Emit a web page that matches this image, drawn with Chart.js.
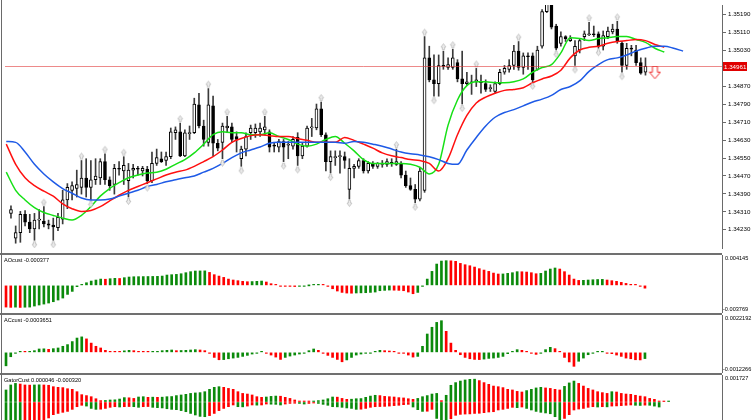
<!DOCTYPE html>
<html>
<head>
<meta charset="utf-8">
<script src="https://cdn.jsdelivr.net/npm/chart.js@4.4.1/dist/chart.umd.min.js"></script>
<style>
  html, body { margin: 0; padding: 0; background: #fff; }
  #wrap { position: relative; width: 752px; height: 420px; overflow: hidden; }
  .pane { position: absolute; left: 0; width: 752px; }
  .pane canvas { display: block; }
  .sep { position: absolute; left: 0; width: 722px; height: 2px; background: #707070; }
  #frame { position: absolute; left: 1px; top: 0; width: 1px; height: 420px; background: #6a6a6a; }
</style>
</head>
<body>
<div id="wrap">
  <div class="pane" style="top:0;height:253px"><canvas id="main" width="752" height="253"></canvas></div>
  <div class="sep" style="top:253px"></div>
  <div class="pane" style="top:255px;height:58px"><canvas id="ao" width="752" height="58"></canvas></div>
  <div class="sep" style="top:313px"></div>
  <div class="pane" style="top:315px;height:58px"><canvas id="ac" width="752" height="58"></canvas></div>
  <div class="sep" style="top:373px"></div>
  <div class="pane" style="top:375px;height:45px"><canvas id="gator" width="752" height="45"></canvas></div>
  <div id="frame"></div>
</div>
<script>
// ─── Data ─────────────────────────────────────────────────────────────────────

const opens = [
  1.34303, 1.34192, 1.34217, 1.34299, 1.34264, 1.34234, 1.34273, 1.34269, 1.34256, 1.34251,
  1.34239, 1.34277, 1.34363, 1.34406, 1.34414, 1.34419, 1.34461, 1.34419, 1.34453, 1.34461,
  1.34534, 1.34453, 1.34432, 1.34504, 1.34492, 1.34449, 1.34496, 1.34504, 1.34492, 1.34500,
  1.34449, 1.34526, 1.34547, 1.34539, 1.34556, 1.34663, 1.34667, 1.34560, 1.34659, 1.34663,
  1.34787, 1.34693, 1.34620, 1.34783, 1.34616, 1.34620, 1.34684, 1.34689, 1.34646, 1.34547,
  1.34590, 1.34663, 1.34663, 1.34667, 1.34676, 1.34667, 1.34607, 1.34599, 1.34624, 1.34607,
  1.34603, 1.34642, 1.34560, 1.34603, 1.34684, 1.34684, 1.34770, 1.34654, 1.34534, 1.34552,
  1.34556, 1.34556, 1.34410, 1.34504, 1.34513, 1.34539, 1.34492, 1.34526, 1.34513, 1.34522,
  1.34522, 1.34530, 1.34522, 1.34526, 1.34474, 1.34427, 1.34410, 1.34367, 1.34406, 1.34997,
  1.34899, 1.34882, 1.34963, 1.34954, 1.34954, 1.34976, 1.34903, 1.34882, 1.34886, 1.34890,
  1.34890, 1.34882, 1.34860, 1.34847, 1.34882, 1.34933, 1.34946, 1.34963, 1.35027, 1.34954,
  1.35006, 1.35006, 1.34946, 1.35049, 1.35203, 1.35246, 1.35139, 1.35062, 1.35092, 1.35074,
  1.35006, 1.35032, 1.35092, 1.35100, 1.35104, 1.35104, 1.35049, 1.35092, 1.35113, 1.35126,
  1.35062, 1.34963, 1.35040, 1.35032, 1.34976, 1.34933,
];
const highs = [
  1.34337, 1.34247, 1.34312, 1.34316, 1.34299, 1.34303, 1.34320, 1.34333, 1.34273, 1.34282,
  1.34303, 1.34406, 1.34436, 1.34444, 1.34496, 1.34539, 1.34547, 1.34539, 1.34547, 1.34547,
  1.34569, 1.34466, 1.34522, 1.34534, 1.34556, 1.34526, 1.34522, 1.34513, 1.34513, 1.34513,
  1.34577, 1.34590, 1.34577, 1.34577, 1.34684, 1.34689, 1.34706, 1.34676, 1.34693, 1.34817,
  1.34839, 1.34719, 1.34860, 1.34826, 1.34633, 1.34706, 1.34736, 1.34706, 1.34667, 1.34603,
  1.34663, 1.34697, 1.34702, 1.34706, 1.34736, 1.34676, 1.34620, 1.34633, 1.34633, 1.34624,
  1.34646, 1.34663, 1.34620, 1.34693, 1.34727, 1.34791, 1.34800, 1.34663, 1.34582, 1.34582,
  1.34582, 1.34577, 1.34547, 1.34522, 1.34547, 1.34547, 1.34534, 1.34534, 1.34530, 1.34539,
  1.34547, 1.34547, 1.34590, 1.34534, 1.34492, 1.34461, 1.34432, 1.34504, 1.35092, 1.35049,
  1.35010, 1.35010, 1.35027, 1.34997, 1.35036, 1.34989, 1.35027, 1.34933, 1.34920, 1.34950,
  1.34920, 1.34899, 1.34877, 1.34890, 1.34946, 1.34963, 1.34989, 1.35053, 1.35070, 1.35019,
  1.35019, 1.35019, 1.35049, 1.35212, 1.35276, 1.35267, 1.35147, 1.35113, 1.35096, 1.35096,
  1.35074, 1.35083, 1.35117, 1.35156, 1.35139, 1.35113, 1.35117, 1.35134, 1.35147, 1.35160,
  1.35070, 1.35062, 1.35053, 1.35053, 1.34997, 1.34997,
];
const lows = [
  1.34282, 1.34170, 1.34174, 1.34247, 1.34217, 1.34183, 1.34234, 1.34243, 1.34234, 1.34183,
  1.34226, 1.34256, 1.34324, 1.34363, 1.34376, 1.34389, 1.34376, 1.34363, 1.34432, 1.34432,
  1.34432, 1.34406, 1.34389, 1.34474, 1.34432, 1.34376, 1.34461, 1.34474, 1.34470, 1.34436,
  1.34440, 1.34517, 1.34530, 1.34517, 1.34547, 1.34633, 1.34556, 1.34556, 1.34633, 1.34659,
  1.34684, 1.34603, 1.34603, 1.34560, 1.34582, 1.34547, 1.34663, 1.34620, 1.34577, 1.34513,
  1.34560, 1.34633, 1.34642, 1.34646, 1.34654, 1.34577, 1.34577, 1.34577, 1.34534, 1.34547,
  1.34590, 1.34517, 1.34547, 1.34599, 1.34646, 1.34676, 1.34646, 1.34492, 1.34483, 1.34517,
  1.34483, 1.34504, 1.34367, 1.34461, 1.34504, 1.34483, 1.34483, 1.34504, 1.34504, 1.34509,
  1.34513, 1.34513, 1.34517, 1.34461, 1.34419, 1.34406, 1.34350, 1.34359, 1.34397, 1.34890,
  1.34826, 1.34826, 1.34946, 1.34946, 1.34946, 1.34890, 1.34791, 1.34873, 1.34834, 1.34869,
  1.34839, 1.34847, 1.34847, 1.34839, 1.34877, 1.34924, 1.34933, 1.34946, 1.34942, 1.34924,
  1.34946, 1.34890, 1.34942, 1.35040, 1.35199, 1.35126, 1.35032, 1.35049, 1.35070, 1.35070,
  1.34963, 1.35019, 1.35074, 1.35096, 1.35092, 1.35040, 1.35032, 1.35083, 1.35104, 1.35062,
  1.34933, 1.34946, 1.35006, 1.34963, 1.34924, 1.34920,
];
const closes = [
  1.34320, 1.34217, 1.34299, 1.34264, 1.34234, 1.34273, 1.34277, 1.34256, 1.34251, 1.34243,
  1.34286, 1.34363, 1.34419, 1.34427, 1.34432, 1.34461, 1.34419, 1.34453, 1.34470, 1.34534,
  1.34453, 1.34427, 1.34504, 1.34500, 1.34517, 1.34496, 1.34504, 1.34500, 1.34504, 1.34449,
  1.34526, 1.34552, 1.34534, 1.34556, 1.34667, 1.34676, 1.34560, 1.34663, 1.34663, 1.34791,
  1.34693, 1.34633, 1.34787, 1.34616, 1.34594, 1.34693, 1.34693, 1.34633, 1.34633, 1.34590,
  1.34646, 1.34684, 1.34684, 1.34684, 1.34689, 1.34599, 1.34603, 1.34624, 1.34599, 1.34612,
  1.34633, 1.34560, 1.34603, 1.34684, 1.34689, 1.34770, 1.34654, 1.34534, 1.34556, 1.34556,
  1.34560, 1.34539, 1.34504, 1.34513, 1.34539, 1.34492, 1.34526, 1.34513, 1.34526, 1.34526,
  1.34534, 1.34526, 1.34534, 1.34474, 1.34427, 1.34410, 1.34367, 1.34492, 1.34997, 1.34899,
  1.34882, 1.34963, 1.34959, 1.34967, 1.34997, 1.34903, 1.34882, 1.34890, 1.34890, 1.34899,
  1.34886, 1.34856, 1.34864, 1.34882, 1.34933, 1.34950, 1.34963, 1.35027, 1.34954, 1.35006,
  1.35002, 1.34899, 1.35032, 1.35203, 1.35254, 1.35134, 1.35040, 1.35092, 1.35083, 1.35083,
  1.35049, 1.35074, 1.35104, 1.35104, 1.35100, 1.35049, 1.35096, 1.35117, 1.35126, 1.35070,
  1.34963, 1.35040, 1.35036, 1.34976, 1.34929, 1.34959,
];

// Alligator lines, sampled every second bar (jaw shifted 8, teeth 5, lips 3)
const lineIdx = [
  -1, 1, 3, 5, 7, 9, 11, 13, 15, 17, 19, 21, 23, 25, 27, 29, 31, 33, 35, 37,
  39, 41, 43, 45, 47, 49, 51, 53, 55, 57, 59, 61, 63, 65, 67, 69, 71, 73, 75, 77,
  79, 81, 83, 85, 87, 89, 91, 93, 95, 97, 99, 101, 103, 105, 107, 109, 111, 113, 115, 117,
  119, 121, 123, 125, 127, 129, 131, 133, 135, 137, 139, 141, 143,
];
const jaw = [
  1.34624, 1.34620, 1.34577, 1.34522, 1.34479, 1.34444, 1.34414, 1.34393, 1.34372, 1.34363,
  1.34363, 1.34367, 1.34380, 1.34393, 1.34406, 1.34423, 1.34432, 1.34444, 1.34453, 1.34462,
  1.34470, 1.34487, 1.34504, 1.34526, 1.34552, 1.34573, 1.34586, 1.34599, 1.34616, 1.34620,
  1.34620, 1.34620, 1.34620, 1.34620, 1.34620, 1.34620, 1.34616, 1.34624, 1.34620, 1.34612,
  1.34603, 1.34590, 1.34577, 1.34569, 1.34564, 1.34556, 1.34543, 1.34526, 1.34522, 1.34586,
  1.34642, 1.34693, 1.34732, 1.34753, 1.34766, 1.34783, 1.34800, 1.34813, 1.34830, 1.34856,
  1.34869, 1.34894, 1.34937, 1.34967, 1.34989, 1.34997, 1.35010, 1.35027, 1.35040, 1.35049,
  1.35049, 1.35040, 1.35027,
];
const teeth = [
  1.34612, 1.34522, 1.34462, 1.34427, 1.34402, 1.34380, 1.34346, 1.34324, 1.34312, 1.34316,
  1.34333, 1.34359, 1.34384, 1.34406, 1.34423, 1.34440, 1.34457, 1.34474, 1.34487, 1.34496,
  1.34513, 1.34534, 1.34556, 1.34586, 1.34620, 1.34637, 1.34650, 1.34654, 1.34650, 1.34646,
  1.34646, 1.34637, 1.34629, 1.34620, 1.34620, 1.34620, 1.34642, 1.34629, 1.34612, 1.34594,
  1.34573, 1.34560, 1.34552, 1.34543, 1.34539, 1.34526, 1.34492, 1.34547, 1.34654, 1.34740,
  1.34796, 1.34822, 1.34839, 1.34852, 1.34856, 1.34864, 1.34886, 1.34903, 1.34916, 1.34942,
  1.34997, 1.35032, 1.35044, 1.35049, 1.35062, 1.35070, 1.35074, 1.35079, 1.35074, 1.35057,
  1.35044,
];
const lips = [
  1.34487, 1.34406, 1.34363, 1.34329, 1.34307, 1.34294, 1.34282, 1.34273, 1.34294, 1.34333,
  1.34380, 1.34414, 1.34440, 1.34462, 1.34474, 1.34483, 1.34487, 1.34500, 1.34522, 1.34543,
  1.34573, 1.34612, 1.34654, 1.34667, 1.34663, 1.34663, 1.34654, 1.34654, 1.34663, 1.34646,
  1.34633, 1.34612, 1.34603, 1.34612, 1.34633, 1.34646, 1.34616, 1.34582, 1.34543, 1.34526,
  1.34526, 1.34526, 1.34526, 1.34522, 1.34509, 1.34479, 1.34522, 1.34697, 1.34809, 1.34873,
  1.34890, 1.34890, 1.34886, 1.34886, 1.34890, 1.34903, 1.34933, 1.34954, 1.34967, 1.35019,
  1.35087, 1.35083, 1.35074, 1.35083, 1.35087, 1.35092, 1.35092, 1.35079, 1.35066, 1.35040,
  1.35023,
];

const fractalUp = [7, 15, 20, 24, 36, 42, 46, 54, 66, 82, 88, 92, 94, 99, 108, 123, 129];
const fractalDown = [5, 9, 17, 25, 29, 45, 49, 58, 61, 68, 72, 86, 90, 96, 111, 116, 120, 125, 130];
const sellIdx = [137];
const sellPrice = [1.34931];

const priceTicks = [
  1.35190, 1.35110, 1.35030, 1.34870, 1.34790, 1.34710, 1.34630,
  1.34550, 1.34470, 1.34390, 1.34310, 1.34230,
];
const CURRENT_PRICE = 1.34961;

const ao = [
  -0.00296, -0.00300, -0.00297, -0.00301, -0.00298, -0.00296, -0.00282, -0.00268, -0.00255, -0.00241,
  -0.00223, -0.00200, -0.00173, -0.00123, -0.00082, -0.00018, 0.00009, 0.00036, 0.00059, 0.00073,
  0.00086, 0.00084, 0.00091, 0.00096, 0.00094, 0.00105, 0.00114, 0.00118, 0.00119, 0.00120,
  0.00121, 0.00122, 0.00123, 0.00127, 0.00141, 0.00146, 0.00150, 0.00159, 0.00173, 0.00187,
  0.00196, 0.00197, 0.00198, 0.00177, 0.00146, 0.00127, 0.00109, 0.00086, 0.00073, 0.00064,
  0.00055, 0.00050, 0.00052, 0.00055, 0.00059, 0.00046, 0.00023, 0.00009, -0.00005, -0.00009,
  -0.00014, -0.00016, -0.00013, -0.00009, 0.00000, 0.00009, 0.00014, 0.00005, -0.00014, -0.00046,
  -0.00077, -0.00096, -0.00105, -0.00107, -0.00104, -0.00102, -0.00100, -0.00096, -0.00091, -0.00073,
  -0.00068, -0.00064, -0.00066, -0.00068, -0.00073, -0.00091, -0.00114, -0.00096, -0.00014, 0.00086,
  0.00191, 0.00291, 0.00332, 0.00337, 0.00335, 0.00328, 0.00300, 0.00282, 0.00268, 0.00250,
  0.00228, 0.00209, 0.00191, 0.00168, 0.00155, 0.00156, 0.00164, 0.00173, 0.00187, 0.00186,
  0.00182, 0.00173, 0.00159, 0.00164, 0.00196, 0.00223, 0.00237, 0.00223, 0.00187, 0.00141,
  0.00086, 0.00068, 0.00069, 0.00073, 0.00077, 0.00080, 0.00082, 0.00073, 0.00064, 0.00055,
  0.00041, 0.00027, 0.00014, 0.00005, -0.00012, -0.00038,
];
const ac = [
  -0.00080, -0.00026, -0.00004, 0.00002, 0.00001, 0.00002, 0.00010, 0.00020, 0.00021, 0.00018,
  0.00022, 0.00026, 0.00036, 0.00046, 0.00064, 0.00085, 0.00092, 0.00080, 0.00055, 0.00036,
  0.00026, 0.00012, 0.00006, 0.00005, 0.00004, 0.00009, 0.00012, 0.00010, 0.00006, 0.00002,
  0.00001, 0.00002, 0.00004, 0.00010, 0.00012, 0.00014, 0.00010, 0.00011, 0.00012, 0.00014,
  0.00016, 0.00014, 0.00010, -0.00004, -0.00030, -0.00044, -0.00043, -0.00038, -0.00034, -0.00030,
  -0.00024, -0.00018, -0.00010, -0.00002, 0.00004, -0.00004, -0.00016, -0.00028, -0.00042, -0.00030,
  -0.00022, -0.00016, -0.00010, -0.00002, 0.00010, 0.00020, 0.00012, -0.00004, -0.00018, -0.00030,
  -0.00042, -0.00056, -0.00045, -0.00030, -0.00016, -0.00010, -0.00006, -0.00002, 0.00006, 0.00012,
  0.00010, 0.00008, 0.00004, -0.00002, -0.00006, -0.00016, -0.00028, -0.00024, 0.00036, 0.00109,
  0.00149, 0.00178, 0.00188, 0.00125, 0.00055, 0.00012, -0.00014, -0.00030, -0.00038, -0.00042,
  -0.00043, -0.00040, -0.00036, -0.00034, -0.00030, -0.00024, -0.00008, 0.00004, 0.00016, 0.00012,
  0.00002, -0.00004, -0.00012, -0.00004, 0.00016, 0.00030, 0.00022, 0.00006, -0.00030, -0.00057,
  -0.00083, -0.00053, -0.00034, -0.00014, -0.00004, 0.00002, 0.00006, -0.00001, -0.00008, -0.00016,
  -0.00024, -0.00034, -0.00038, -0.00044, -0.00045, -0.00037,
];
const gatorUp = [
  0.00077, 0.00109, 0.00119, 0.00115, 0.00109, 0.00108, 0.00109, 0.00110, 0.00109, 0.00107,
  0.00098, 0.00094, 0.00092, 0.00085, 0.00081, 0.00066, 0.00047, 0.00041, 0.00034, 0.00021,
  0.00009, 0.00010, 0.00013, 0.00014, 0.00019, 0.00028, 0.00027, 0.00023, 0.00032, 0.00034,
  0.00030, 0.00031, 0.00030, 0.00031, 0.00034, 0.00035, 0.00041, 0.00045, 0.00049, 0.00055,
  0.00058, 0.00060, 0.00066, 0.00081, 0.00094, 0.00098, 0.00094, 0.00087, 0.00081, 0.00066,
  0.00055, 0.00051, 0.00045, 0.00034, 0.00030, 0.00032, 0.00036, 0.00038, 0.00037, 0.00030,
  0.00023, 0.00013, 0.00006, 0.00002, 0.00001, 0.00002, 0.00009, 0.00013, 0.00021, 0.00032,
  0.00031, 0.00023, 0.00017, 0.00018, 0.00021, 0.00022, 0.00030, 0.00038, 0.00043, 0.00041,
  0.00036, 0.00034, 0.00032, 0.00028, 0.00026, 0.00021, 0.00017, 0.00023, 0.00034, 0.00041,
  0.00051, 0.00055, 0.00009, 0.00043, 0.00107, 0.00124, 0.00134, 0.00141, 0.00145, 0.00146,
  0.00137, 0.00124, 0.00113, 0.00102, 0.00098, 0.00092, 0.00081, 0.00077, 0.00068, 0.00064,
  0.00073, 0.00081, 0.00090, 0.00094, 0.00090, 0.00087, 0.00081, 0.00077, 0.00100, 0.00122,
  0.00134, 0.00119, 0.00102, 0.00087, 0.00077, 0.00066, 0.00060, 0.00055, 0.00066, 0.00064,
  0.00055, 0.00051, 0.00049, 0.00043, 0.00038, 0.00034, 0.00023, 0.00017, 0.00006, 0.00002,
  0.00005,
];
const gatorDown = [
  -0.00126, -0.00130, -0.00132, -0.00134, -0.00133, -0.00131, -0.00128, -0.00125, -0.00120, -0.00102,
  -0.00081, -0.00073, -0.00066, -0.00060, -0.00047, -0.00030, -0.00021, -0.00026, -0.00041, -0.00047,
  -0.00046, -0.00041, -0.00034, -0.00030, -0.00032, -0.00030, -0.00029, -0.00030, -0.00034, -0.00030,
  -0.00029, -0.00034, -0.00036, -0.00038, -0.00043, -0.00047, -0.00049, -0.00055, -0.00062, -0.00073,
  -0.00083, -0.00092, -0.00094, -0.00087, -0.00073, -0.00055, -0.00041, -0.00030, -0.00019, -0.00030,
  -0.00031, -0.00026, -0.00019, -0.00020, -0.00019, -0.00013, -0.00014, -0.00015, -0.00019, -0.00013,
  -0.00009, -0.00008, -0.00009, -0.00013, -0.00009, -0.00004, -0.00009, -0.00015, -0.00021, -0.00030,
  -0.00031, -0.00034, -0.00038, -0.00041, -0.00047, -0.00046, -0.00041, -0.00034, -0.00030, -0.00029,
  -0.00028, -0.00026, -0.00023, -0.00021, -0.00017, -0.00015, -0.00032, -0.00049, -0.00060, -0.00059,
  -0.00047, -0.00105, -0.00130, -0.00140, -0.00107, -0.00085, -0.00079, -0.00077, -0.00076, -0.00073,
  -0.00072, -0.00068, -0.00064, -0.00062, -0.00051, -0.00047, -0.00041, -0.00034, -0.00036, -0.00032,
  -0.00041, -0.00051, -0.00060, -0.00066, -0.00070, -0.00075, -0.00094, -0.00119, -0.00105, -0.00081,
  -0.00051, -0.00045, -0.00041, -0.00034, -0.00030, -0.00032, -0.00030, -0.00031, -0.00026, -0.00025,
  -0.00023, -0.00021, -0.00019, -0.00021, -0.00022, -0.00020, -0.00021, -0.00026, -0.00032,
];

// visible bar range of the window (index units) and panel value ranges
const X_MIN = -1.27;
const X_MAX = 151.28;
const PRICE_RANGE = [1.341486, 1.352329];
const AO_RANGE = [-0.003769, 0.004145];
const AC_RANGE = [-0.0012266, 0.0022192];
const GATOR_RANGE = [-0.00115, 0.001727];

// ─── Style ────────────────────────────────────────────────────────────────────

const UP = '#0b8a0b';
const DOWN = '#ff0000';
const AXIS = '#6a6a6a';
const FONT = 'Liberation Sans';

// small grey fractal arrow, drawn off-centre so it sits just beyond the bar
const makeArrow = (dir) => {
  const c = document.createElement('canvas');
  c.width = 7;
  c.height = 20;
  const g = c.getContext('2d');
  if (dir === 'down') {
    g.translate(0, 20);
    g.scale(1, -1);
  }
  g.beginPath();
  g.moveTo(3.5, 2.5);
  g.lineTo(6, 6);
  g.lineTo(4.6, 6);
  g.lineTo(4.6, 8.5);
  g.lineTo(2.4, 8.5);
  g.lineTo(2.4, 6);
  g.lineTo(1, 6);
  g.closePath();
  g.fillStyle = '#ececec';
  g.fill();
  g.strokeStyle = '#b4b4b4';
  g.lineWidth = 0.7;
  g.stroke();
  return c;
};

const makeSellArrow = () => {
  const c = document.createElement('canvas');
  c.width = 13;
  c.height = 14;
  const g = c.getContext('2d');
  g.beginPath();
  g.moveTo(4, 0.5);
  g.lineTo(9, 0.5);
  g.lineTo(9, 6.5);
  g.lineTo(12, 6.5);
  g.lineTo(6.5, 13);
  g.lineTo(1, 6.5);
  g.lineTo(4, 6.5);
  g.closePath();
  g.fillStyle = '#fff';
  g.fill();
  g.strokeStyle = '#f03030';
  g.lineWidth = 1;
  g.stroke();
  return c;
};

const fixAxis = (s) => {
  s.width = 30;
  s.paddingTop = 0;
  s.paddingBottom = 0;
};

const xAxis = () => ({ type: 'linear', min: X_MIN, max: X_MAX, display: false, offset: false });

const baseOptions = () => ({
  responsive: false,
  animation: false,
  events: [],
  layout: { padding: 0 },
});

// ─── Plugins ──────────────────────────────────────────────────────────────────

const priceLine = {
  id: 'priceLine',
  afterDatasetsDraw(chart, args, opts) {
    const { ctx, chartArea, scales } = chart;
    const y = Math.round(scales.y.getPixelForValue(opts.value)) + 0.5;
    ctx.save();
    ctx.strokeStyle = 'rgba(225,60,60,0.6)';
    ctx.lineWidth = 1;
    ctx.beginPath();
    ctx.moveTo(chartArea.left, y);
    ctx.lineTo(chartArea.right, y);
    ctx.stroke();
    ctx.fillStyle = '#e00000';
    ctx.fillRect(chartArea.right + 1, y - 4.5, 24, 9);
    ctx.fillStyle = '#fff';
    ctx.font = `6.2px "${FONT}"`;
    ctx.textBaseline = 'middle';
    ctx.fillText(opts.value.toFixed(5), chartArea.right + 2, y + 0.5);
    ctx.restore();
  },
};

const panelText = {
  id: 'panelText',
  afterDraw(chart, args, opts) {
    const { ctx, chartArea } = chart;
    ctx.save();
    ctx.font = `5.6px "${FONT}"`;
    ctx.fillStyle = '#000';
    ctx.textBaseline = 'top';
    ctx.fillText(opts.title, 4, chartArea.top + 3);
    if (opts.top) ctx.fillText(opts.top, chartArea.right + 3, chartArea.top + 1);
    ctx.textBaseline = 'bottom';
    if (opts.bottom) ctx.fillText(opts.bottom, chartArea.right + 1, chartArea.bottom - 1);
    ctx.restore();
  },
};

// ─── Main chart ───────────────────────────────────────────────────────────────

const bars = opens.map((_, i) => i);

const lineSet = (values, color) => ({
  type: 'line',
  data: values.map((v, k) => ({ x: lineIdx[k], y: v })),
  borderColor: color,
  borderWidth: 1.5,
  pointRadius: 0,
  cubicInterpolationMode: 'monotone',
  order: 1,
});

const markerSet = (points, style) => ({
  type: 'line',
  data: points,
  showLine: false,
  pointStyle: style,
  pointRadius: 3,
  order: 0,
});

new Chart(document.getElementById('main'), {
  type: 'bar',
  data: {
    datasets: [
      markerSet(fractalUp.map((i) => ({ x: i, y: highs[i] })), makeArrow('up')),
      markerSet(fractalDown.map((i) => ({ x: i, y: lows[i] })), makeArrow('down')),
      markerSet(sellIdx.map((i, k) => ({ x: i, y: sellPrice[k] })), makeSellArrow()),
      lineSet(jaw, '#1e5ae6'),
      lineSet(teeth, '#ff1010'),
      lineSet(lips, '#16e016'),
      {
        data: bars.map((i) => ({ x: i, y: [opens[i], closes[i]] })),
        backgroundColor: bars.map((i) => (closes[i] >= opens[i] ? '#ffffff' : '#000000')),
        borderColor: '#000',
        borderWidth: 1,
        borderSkipped: false,
        barThickness: 3,
        minBarLength: 1,
        grouped: false,
        order: 2,
      },
      {
        data: bars.map((i) => ({ x: i, y: [lows[i], highs[i]] })),
        backgroundColor: '#3a3a3a',
        barThickness: 1,
        grouped: false,
        order: 3,
      },
    ],
  },
  options: {
    ...baseOptions(),
    plugins: {
      legend: { display: false },
      tooltip: { enabled: false },
      priceLine: { value: CURRENT_PRICE },
    },
    scales: {
      x: xAxis(),
      y: {
        position: 'right',
        min: PRICE_RANGE[0],
        max: PRICE_RANGE[1],
        afterBuildTicks: (s) => {
          s.ticks = priceTicks.map((v) => ({ value: v }));
        },
        afterFit: fixAxis,
        ticks: {
          autoSkip: false,
          color: '#000',
          padding: 2,
          font: { family: FONT, size: 6.2 },
          callback: (v) => v.toFixed(5),
        },
        grid: { drawOnChartArea: false, tickLength: 4, color: AXIS },
        border: { color: AXIS },
      },
    },
  },
  plugins: [priceLine],
});

// ─── Oscillator panels ────────────────────────────────────────────────────────

const risingColors = (values, first) =>
  values.map((v, i) => (i === 0 ? first : Math.abs(v) > Math.abs(values[i - 1]) ? UP : DOWN));

const signedColors = (values, first) =>
  values.map((v, i) => (i === 0 ? first : v > values[i - 1] ? UP : DOWN));

const histSet = (values, colors) => ({
  data: values.map((v, i) => ({ x: i, y: v })),
  backgroundColor: colors,
  barThickness: 2,
  minBarLength: 1,
  grouped: false,
});

const panel = (id, datasets, range, text) =>
  new Chart(document.getElementById(id), {
    type: 'bar',
    data: { datasets },
    options: {
      ...baseOptions(),
      plugins: {
        legend: { display: false },
        tooltip: { enabled: false },
        panelText: text,
      },
      scales: {
        x: xAxis(),
        y: {
          position: 'right',
          min: range[0],
          max: range[1],
          afterFit: fixAxis,
          ticks: { display: false },
          grid: { drawOnChartArea: false, drawTicks: false },
          border: { color: AXIS },
        },
      },
    },
    plugins: [panelText],
  });

panel('ao', [histSet(ao, signedColors(ao, DOWN))], AO_RANGE, {
  title: 'AOcust -0.000377',
  top: '0.004145',
  bottom: '-0.003769',
});

panel('ac', [histSet(ac, signedColors(ac, UP))], AC_RANGE, {
  title: 'ACcust -0.0003651',
  top: '0.0022192',
  bottom: '-0.0012266',
});

panel(
  'gator',
  [histSet(gatorUp, risingColors(gatorUp, UP)), histSet(gatorDown, risingColors(gatorDown, UP))],
  GATOR_RANGE,
  { title: 'GatorCust 0.000046 -0.000320', top: '0.001727' },
);
</script>
</body>
</html>
